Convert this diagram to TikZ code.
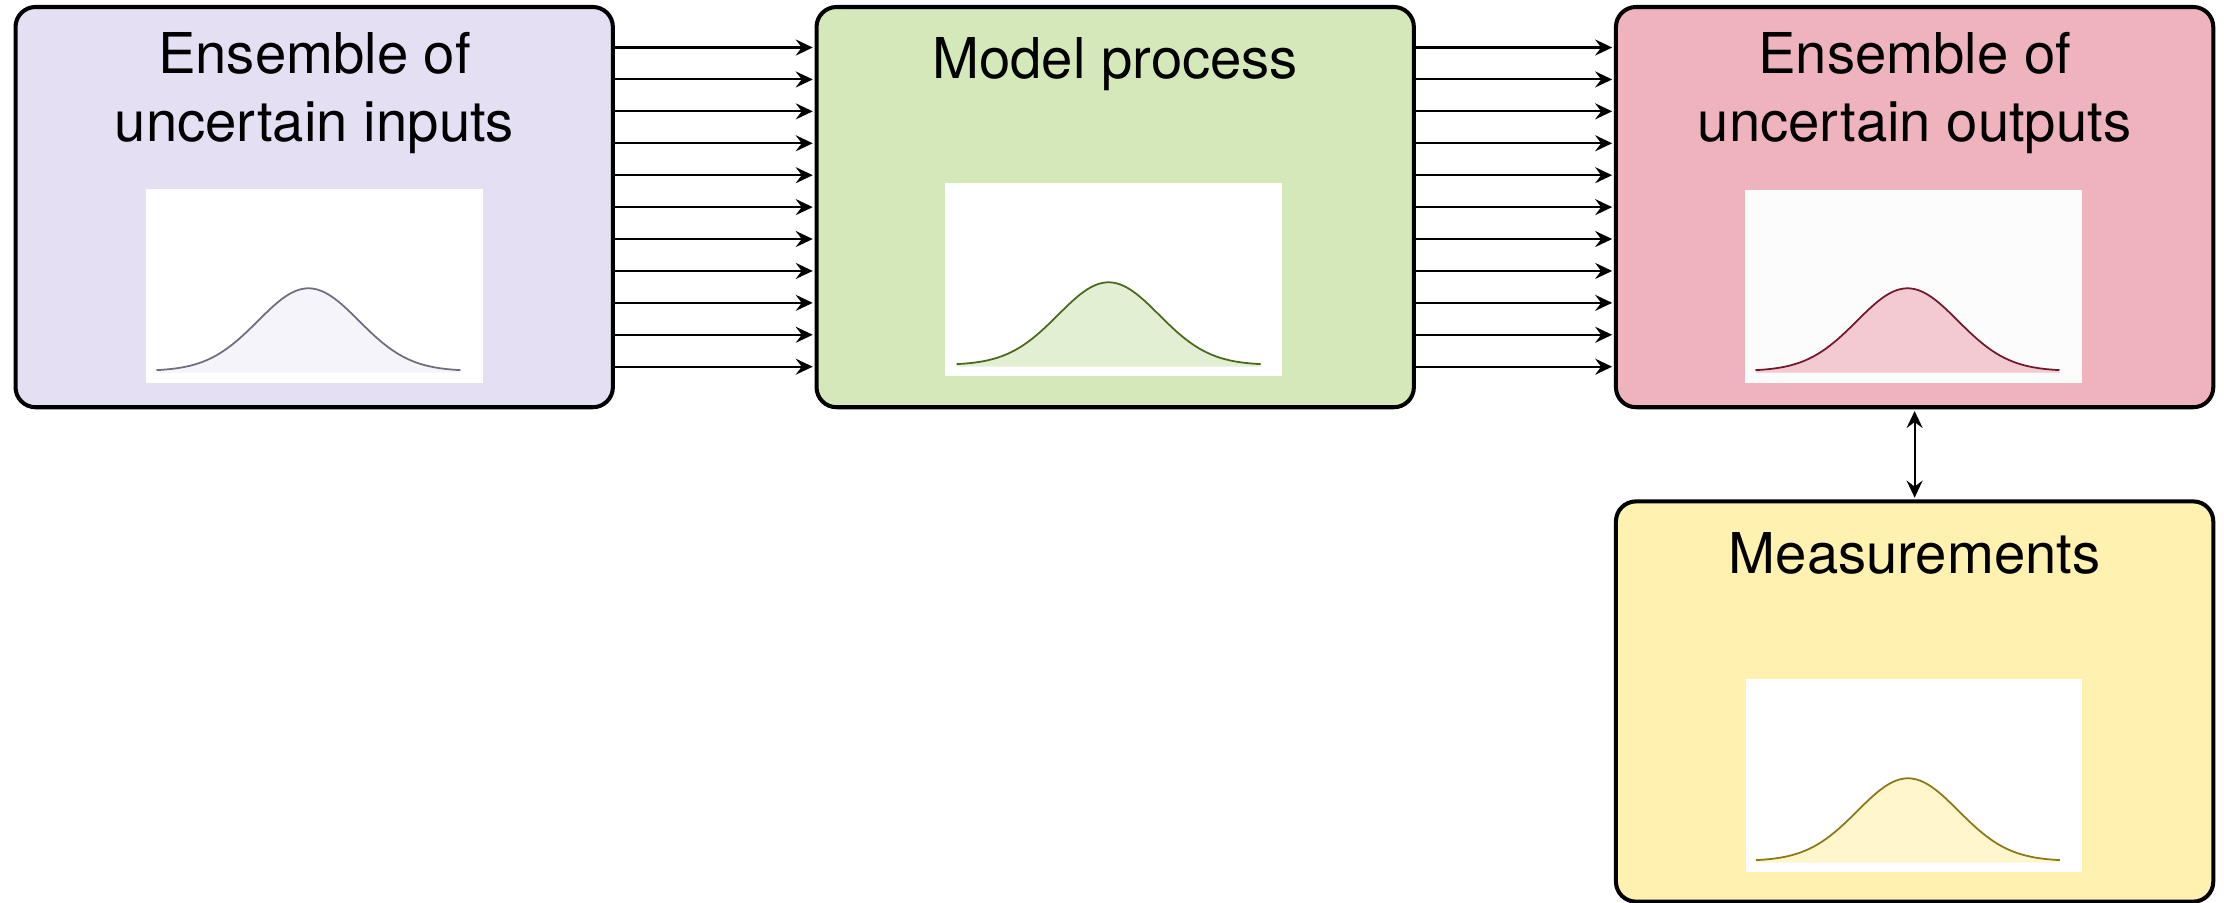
\documentclass[tikz,border=0pt]{standalone}
\usepackage{fontspec}
\setmainfont{TeX Gyre Heros}
\usetikzlibrary{arrows.meta}
\definecolor{fillA}{RGB}{228,223,243}
\definecolor{fillB}{RGB}{213,232,186}
\definecolor{fillC}{RGB}{239,179,190}
\definecolor{fillD}{RGB}{255,241,176}
\definecolor{curveA}{RGB}{110,110,125}
\definecolor{areaA}{RGB}{246,244,251}
\definecolor{curveB}{RGB}{75,105,30}
\definecolor{areaB}{RGB}{226,239,211}
\definecolor{curveC}{RGB}{115,25,45}
\definecolor{areaC}{RGB}{243,201,210}
\definecolor{curveD}{RGB}{140,120,25}
\definecolor{areaD}{RGB}{255,246,204}
\definecolor{plotgrey}{RGB}{252,252,252}
\tikzset{
  bigbox/.style={draw=black, line width=1.15pt, rounded corners=0.2cm,
    minimum width=5.97cm, minimum height=4.0cm, inner sep=0pt},
  titletext/.style={anchor=north, inner sep=0pt, align=center,
    font=\fontsize{16}{19.2}\selectfont},
  plotbg/.style={fill=white, draw=none, minimum width=3.365cm,
    minimum height=1.935cm, inner sep=0pt},
  tipshape/.style={},
  conn/.style={line width=0.6pt, -{Stealth[length=0.17cm,width=0.16cm,inset=0.06cm]}},
  dconn/.style={line width=0.6pt, {Stealth[length=0.17cm,width=0.16cm,inset=0.06cm]}-{Stealth[length=0.17cm,width=0.16cm,inset=0.06cm]}},
  gcurve/.style={line width=0.5pt}
}
\newcommand{\gaussplot}[5]{%
  % #1 centre x, #2 baseline y, #3 fill, #4 stroke
  \fill[#3] plot[domain=-3.01:3.01, samples=90] ({#1+50.5*\x},{#2-82.7*exp(-\x*\x/2)}) -- ({#1+152},{#2+1.5}) -- ({#1-152},{#2+1.5}) -- cycle;
  \draw[gcurve, #4] plot[domain=-3.01:3.01, samples=90] ({#1+50.5*\x},{#2-82.7*exp(-\x*\x/2)});
}
\begin{document}
\begin{tikzpicture}[x=0.01cm, y=-0.01cm]
\useasboundingbox (0,0) rectangle (2224,902);
% boxes
\node[bigbox, fill=fillA] (in)   at (314.2,207.1) {};
\node[bigbox, fill=fillB] (mp)   at (1115.2,207.1) {};
\node[bigbox, fill=fillC] (out)  at (1914.6,207.1) {};
\node[bigbox, fill=fillD] (meas) at (1914.6,701.5) {};
% titles
\node[titletext] (tin)   at (314.5,32)  {Ensemble of\\uncertain inputs};
\node[titletext] (tmp)   at (1115.2,37) {Model process};
\node[titletext] (tout)  at (1914.6,32) {Ensemble of\\uncertain outputs};
\node[titletext] (tmeas) at (1914.6,532) {Measurements};
% plot backgrounds
\node[plotbg] (pin)   at (314.3,286)  {};
\node[plotbg] (pmp)   at (1113.5,279.5) {};
\node[plotbg, fill=plotgrey] (pout)  at (1913.2,286.5) {};
\node[plotbg] (pmeas) at (1914,775.5) {};
% curves
\gaussplot{308.5}{371}{areaA}{curveA}{}
\gaussplot{1108.6}{365}{areaB}{curveB}{}
\gaussplot{1907.5}{371}{areaC}{curveC}{}
\gaussplot{1908}{861}{areaD}{curveD}{}
% connectors
\foreach \i in {-5,...,5} {
  \draw[conn, shorten >=0.5pt] ([yshift=\i*0.319cm]in.east) -- ([yshift=\i*0.319cm]mp.west);
  \draw[conn, shorten >=0.5pt] ([yshift=\i*0.319cm]mp.east) -- ([yshift=\i*0.319cm]out.west);
}
\draw[dconn, shorten >=0.5pt, shorten <=0.5pt] (out.south) -- (meas.north);
\end{tikzpicture}
\end{document}
